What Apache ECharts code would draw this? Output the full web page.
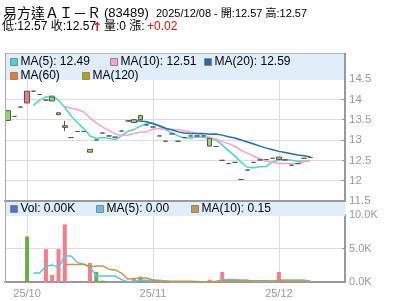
<!DOCTYPE html>
<html><head><meta charset="utf-8">
<script src="https://cdn.jsdelivr.net/npm/echarts@6/dist/echarts.min.js"></script>
<style>html,body{margin:0;padding:0;background:#fff}#c{width:400px;height:301px}</style>
</head><body><div id="c"></div>
<script>
const dates = ['2025/09/26','2025/09/29','2025/09/30',
 '2025/10/02','2025/10/03','2025/10/06','2025/10/08','2025/10/09','2025/10/10','2025/10/13','2025/10/14','2025/10/15','2025/10/16','2025/10/17','2025/10/20','2025/10/21','2025/10/22','2025/10/23','2025/10/24','2025/10/27','2025/10/28','2025/10/30','2025/10/31',
 '2025/11/03','2025/11/04','2025/11/05','2025/11/06','2025/11/07','2025/11/10','2025/11/11','2025/11/12','2025/11/13','2025/11/14','2025/11/17','2025/11/18','2025/11/19','2025/11/20','2025/11/21','2025/11/24','2025/11/25','2025/11/26','2025/11/27','2025/11/28',
 '2025/12/01','2025/12/02','2025/12/03','2025/12/04','2025/12/05','2025/12/08',
 '2025/12/09','2025/12/10','2025/12/11','2025/12/12','2025/12/15'];
const opens  = [13.72,13.58,13.81,13.91,14.20,14.12,13.98,14.06,13.67,13.35,13.06,13.21,13.21,12.77,13.00,13.17,13.10,13.07,13.22,13.47,13.50,13.60,13.37,13.32,13.10,12.97,13.15,12.97,13.06,13.10,13.10,13.10,13.04,12.84,12.50,12.42,12.45,12.03,12.26,12.45,12.51,12.52,12.55,12.58,12.51,12.38,12.42,12.55,12.57];
const closes = [13.48,13.58,13.81,14.20,14.20,14.12,13.98,13.96,13.62,13.31,13.06,13.21,13.21,12.70,13.00,13.17,13.10,13.07,13.22,13.47,13.43,13.50,13.37,13.32,13.10,12.97,13.15,12.97,13.06,13.10,13.10,13.10,12.85,12.84,12.50,12.42,12.45,12.03,12.26,12.45,12.51,12.52,12.55,12.52,12.51,12.38,12.42,12.55,12.57];
const lows   = [13.48,13.58,13.81,13.91,14.20,14.12,13.98,13.96,13.62,13.22,13.06,13.21,13.21,12.70,13.00,13.17,13.10,13.07,13.22,13.47,13.43,13.50,13.37,13.32,13.10,12.97,13.15,12.97,13.06,13.10,13.10,13.10,12.85,12.84,12.50,12.42,12.45,12.03,12.26,12.45,12.51,12.52,12.55,12.52,12.51,12.38,12.42,12.55,12.57];
const highs  = [13.72,13.58,13.81,14.20,14.20,14.12,13.98,14.06,13.67,13.47,13.06,13.21,13.21,12.77,13.00,13.17,13.10,13.07,13.22,13.47,13.50,13.60,13.37,13.32,13.10,12.97,13.15,12.97,13.06,13.10,13.10,13.10,13.04,12.84,12.50,12.42,12.45,12.03,12.26,12.45,12.51,12.52,12.55,12.58,12.51,12.38,12.42,12.55,12.57];
const ma5  = [null,null,null,null,13.85,13.98,14.06,14.09,13.98,13.80,13.59,13.43,13.28,13.10,13.04,13.06,13.04,13.01,13.11,13.21,13.26,13.34,13.40,13.42,13.34,13.25,13.18,13.10,13.05,13.05,13.08,13.07,13.04,13.00,12.88,12.74,12.61,12.45,12.33,12.32,12.34,12.35,12.46,12.51,12.52,12.50,12.48,12.48,12.49];
const ma10 = [null,null,null,null,null,null,null,null,null,13.83,13.78,13.75,13.69,13.54,13.42,13.32,13.23,13.15,13.11,13.12,13.16,13.19,13.20,13.27,13.28,13.26,13.26,13.25,13.23,13.20,13.16,13.12,13.07,13.02,12.96,12.91,12.84,12.75,12.67,12.60,12.54,12.48,12.45,12.42,12.42,12.42,12.42,12.47,12.50];
const ma20 = [null,null,null,null,null,null,null,null,null,null,null,null,null,null,null,null,null,null,null,13.47,13.47,13.47,13.45,13.40,13.35,13.29,13.25,13.20,13.17,13.16,13.16,13.16,13.14,13.15,13.12,13.08,13.05,13.00,12.95,12.90,12.85,12.80,12.76,12.72,12.69,12.66,12.63,12.61,12.58];
const volumes = [0,0,0,6800,0,0,4900,1070,4900,8600, 0,0,0,2840,1500,200,0,0,0,0, 500,800,0,0,0,0,0,0,0,0, 0,0,350,0,1500,0,0,0,0,0, 0,0,0,1500,0,0,0,0,0];
const volMa5 = [null,null,null,null,1360,1360,2340,2550,2170,3890,3890,2910,2700,2290,870,910,910,910,340,40,100,260,260,260,260,160,0,0,0,0,0,0,70,70,370,370,370,300,300,0,0,0,0,300,300,300,300,300,0];
const volMa10 = [null,null,null,null,null,null,null,null,null,2627,2627,2627,2627,2231,2381,2401,1911,1804,1314,454,504,584,584,300,150,130,130,130,130,130,80,0,35,35,185,185,185,185,185,185,185,185,150,300,150,150,150,150,150];
const priceTicks = {min: 11.5, max: 14.5, step: 0.5};
const volTicks = {min: 0, max: 10000, step: 5000};
const legendMain = ['MA(5): 12.49','MA(10): 12.51','MA(20): 12.59','MA(60)','MA(120)'];
const legendVol = ['Vol: 0.00K','MA(5): 0.00','MA(10): 0.15'];
const titleName = '易方達ＡＩ－Ｒ', titleCode = '(83489)', titleInfo = '2025/12/08 - 開:12.57 高:12.57';
const row2a = '低:12.57 收:12.57', row2b = '量:0 漲:', row2c = '+0.02';

const candleData = opens.map((o,i)=>[o, closes[i], lows[i], highs[i]]);
const isMonthStart = (i)=> i>0 && dates[i].slice(5,7)!==dates[i-1].slice(5,7);
const GREEN='#66b046', PINK='#f47f88';
const font='"Liberation Sans", Arial, "Noto Sans CJK TC", sans-serif';

const chart = echarts.init(document.getElementById('c'), null, {renderer:'canvas'});
const legCommon = {orient:'horizontal', padding:0, itemGap:0, itemWidth:7, itemHeight:7, icon:'rect', selectedMode:false, z:20,
  itemStyle:{borderColor:'#888', borderWidth:1}, textStyle:{fontSize:12, fontFamily:font, color:'#000', padding:[0,0,0,-2]}};
const leg = (name,left,top)=>Object.assign({}, legCommon, {data:[name], left, top});
const catAxis = (gi, showLabel)=>({type:'category', data:dates, gridIndex:gi, boundaryGap:true,
  axisLine:{show:true, lineStyle:{color:'#999', width:2}}, axisTick:{show:false},
  axisLabel:{show:showLabel, interval:(i)=>isMonthStart(i), formatter:(v)=>v.slice(2,7), color:'#999', fontSize:11, fontFamily:font, margin:6},
  splitLine:{show:true, interval:(i)=>isMonthStart(i), alignWithLabel:true, lineStyle:{color:'#ddd', width:1}}});
const lineS = (name,data,color,xi)=>({type:'line', name, data, xAxisIndex:xi, yAxisIndex:xi, symbol:'none', showSymbol:false,
  lineStyle:{color, width:1.5}, itemStyle:{color}, z:3});

chart.setOption({
  animation:false,
  grid:[{left:5,right:55,top:79,bottom:100},{left:5,right:55,top:215,bottom:19}],
  xAxis:[catAxis(0,false), catAxis(1,true)],
  yAxis:[
    {type:'value', gridIndex:0, position:'right', min:priceTicks.min, max:priceTicks.max, interval:priceTicks.step,
     axisLine:{show:true, lineStyle:{color:'#999', width:2}}, axisTick:{show:true, inside:true, length:3, lineStyle:{color:'#999'}},
     axisLabel:{color:'#999', fontSize:11.5, fontFamily:font, margin:4}, splitLine:{lineStyle:{color:'#ddd'}}},
    {type:'value', gridIndex:1, position:'right', min:volTicks.min, max:volTicks.max, interval:volTicks.step,
     axisLine:{show:true, lineStyle:{color:'#999', width:2}}, axisTick:{show:true, inside:true, length:3, lineStyle:{color:'#999'}},
     axisLabel:{color:'#999', fontSize:11, fontFamily:font, margin:4, formatter:(v)=>(v/1000).toFixed(1)+'K'}, splitLine:{lineStyle:{color:'#ddd'}}}
  ],
  legend:[
    leg(legendMain[0],10,56), leg(legendMain[1],110,56), leg(legendMain[2],204,56),
    leg(legendMain[3],10,70), leg(legendMain[4],82,70),
    leg(legendVol[0],10,203), leg(legendVol[1],96,203), leg(legendVol[2],191,203)
  ],
  series:[
    lineS(legendMain[0], ma5, '#48d4d4', 0),
    lineS(legendMain[1], ma10, '#ff9fcc', 0),
    lineS(legendMain[2], ma20, '#1f6cbb', 0),
    lineS(legendMain[3], [], '#f07d1e', 0),
    lineS(legendMain[4], [], '#b5a300', 0),
    {type:'candlestick', name:'K', data:candleData, xAxisIndex:0, yAxisIndex:0, barWidth:5, z:5,
     itemStyle:{color:'#f27880', color0:'#95d66c', borderColor:'#555', borderColor0:'#555', borderColorDoji:'#555', borderWidth:1}},
    {type:'bar', name:legendVol[0], data:volumes, xAxisIndex:1, yAxisIndex:1, barWidth:4, z:2,
     itemStyle:{color:(p)=> (p.dataIndex===0 || closes[p.dataIndex]>=closes[p.dataIndex-1]) ? GREEN : PINK}},
    lineS(legendVol[1], volMa5, '#5ec2ec', 1),
    lineS(legendVol[2], volMa10, '#c99448', 1)
  ],
  graphic:[
    {type:'rect', shape:{x:5,y:53,width:340,height:27}, style:{fill:'#dfeefa'}, z:10},
    {type:'rect', shape:{x:5,y:202,width:340,height:14}, style:{fill:'#dfeefa'}, z:10},
    {type:'line', shape:{x1:5.5,y1:53,x2:5.5,y2:283}, style:{stroke:'#aaa', lineWidth:1}, z:11},
    {type:'line', shape:{x1:5,y1:53.5,x2:345,y2:53.5}, style:{stroke:'#bbb', lineWidth:1}, z:11},
    {type:'line', shape:{x1:345,y1:53,x2:345,y2:80}, style:{stroke:'#999', lineWidth:2}, z:11},
    {type:'text', x:3, y:13, z:12, style:{text:titleName, font:'14px "Noto Sans CJK TC"', fill:'#000', verticalAlign:'middle'}},
    {type:'text', x:104, y:13, z:12, style:{text:titleCode, font:'13px '+font, fill:'#000', verticalAlign:'middle'}},
    {type:'text', x:156, y:14, z:12, style:{text:titleInfo, font:'11px '+font, fill:'#000', verticalAlign:'middle'}},
    {type:'text', x:2, y:27, z:12, style:{text:row2a, font:'12px '+font, fill:'#000', verticalAlign:'middle'}},
    {type:'text', x:92, y:28, z:12, style:{text:'↑', font:'bold 12px "DejaVu Sans"', fill:'#e01010', verticalAlign:'middle'}},
    {type:'text', x:104, y:27, z:12, style:{text:row2b, font:'12px '+font, fill:'#000', verticalAlign:'middle'}},
    {type:'text', x:147, y:27, z:12, style:{text:row2c, font:'12px '+font, fill:'#e01010', verticalAlign:'middle'}}
  ]
});
</script></body></html>
